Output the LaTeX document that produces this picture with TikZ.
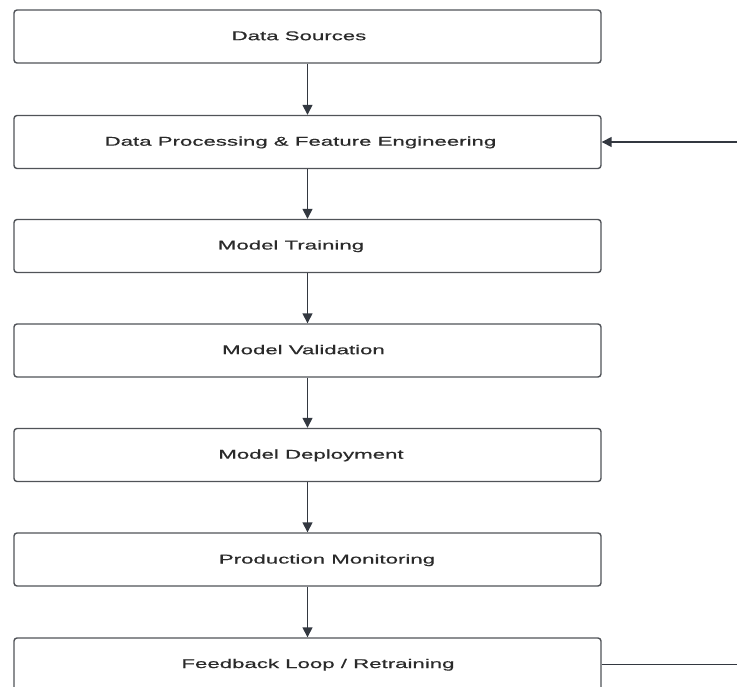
\documentclass[tikz,border=0pt]{standalone}
\usepackage{fontspec}
\usepackage{graphicx}
\setmainfont{Liberation Sans}
\newfontfamily\boxfont{Liberation Sans}[FakeBold=0.35]
\usetikzlibrary{arrows.meta}
\definecolor{boxline}{HTML}{505358}
\definecolor{arrline}{HTML}{333840}
\definecolor{txt}{HTML}{2A2A2A}
\newcommand{\wide}[1]{\scalebox{1.75}[1]{#1}}
\tikzset{
  stagebox/.style={draw=boxline, line width=1.4pt, rounded corners=3pt, fill=white,
    minimum width=587pt, minimum height=53pt, inner sep=0pt},
  stagetext/.style={text=txt, font=\boxfont\fontsize{12.7pt}{14pt}\selectfont, inner sep=0pt, anchor=base},
  flow/.style={draw=arrline, line width=1.5pt, -{Triangle[length=10pt,width=10pt]}},
  plainline/.style={draw=arrline, line width=1.5pt}
}
\begin{document}
\begin{tikzpicture}[x=1pt,y=-1pt]
\useasboundingbox (0,0) rectangle (737,687);
\clip (0,0) rectangle (737,687);
\node[stagebox] (ds) at (307.5,36.5) {};
\node[stagebox] (dp) at (307.5,142) {};
\node[stagebox] (mt) at (307.5,246) {};
\node[stagebox] (mv) at (307.5,350.5) {};
\node[stagebox] (md) at (307.5,455) {};
\node[stagebox] (pm) at (307.5,559.5) {};
\node[stagebox] (fl) at (307.5,664.5) {};
\node[stagetext] (dst) at (299,40.2) {\wide{Data Sources}};
\node[stagetext] (dpt) at (300.5,145.7) {\wide{Data Processing \& Feature Engineering}};
\node[stagetext] (mtt) at (291,249.5) {\wide{Model Training}};
\node[stagetext] (mvt) at (303.5,354.2) {\wide{Model Validation}};
\node[stagetext] (mdt) at (311,458.7) {\wide{Model Deployment}};
\node[stagetext] (pmt) at (327,563.5) {\wide{Production Monitoring}};
\node[stagetext] (flt) at (318,668) {\wide{Feedback Loop / Retraining}};
\coordinate (inR) at (737,142);
\coordinate (outR) at (737,664.5);
\draw[flow] (ds) -- (dp);
\draw[flow] (dp) -- (mt);
\draw[flow] (mt) -- (mv);
\draw[flow] (mv) -- (md);
\draw[flow] (md) -- (pm);
\draw[flow] (pm) -- (fl);
\draw[flow] (inR) -- (dp.east);
\draw[plainline] (fl.east) -- (outR);
\end{tikzpicture}
\end{document}
